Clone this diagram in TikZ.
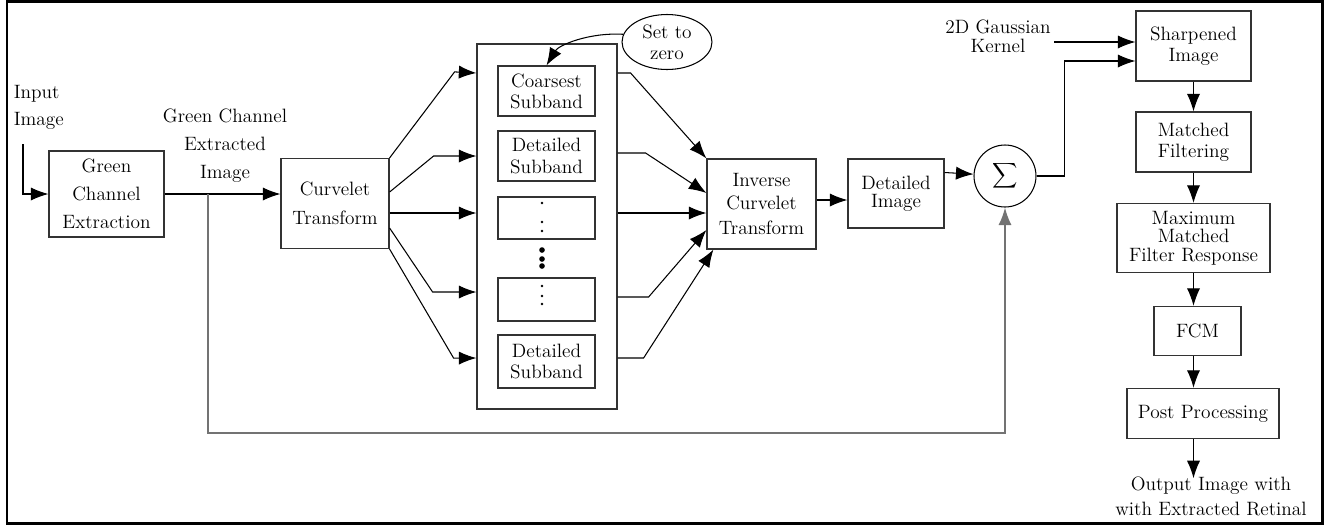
\documentclass[tikz,border=0pt]{standalone}
\usepackage{tikz}
\usetikzlibrary{shapes, arrows.meta, calc, positioning}

\begin{document}
\begin{tikzpicture}[x=0.02cm, y=-0.02cm, node distance=1.92cm, >={Latex[length=10pt,width=7.5pt]}, font=\fontsize{11}{12}\selectfont]

    % Define styles
    \tikzstyle{block} = [rectangle, text centered, align=center, draw=black!80, line width=0.7pt, fill=white, inner sep=2pt]
    \tikzstyle{subband} = [block, minimum width=1.94cm, minimum height=1cm]
    \tikzstyle{txt} = [align=center, inner sep=2pt]
    \tikzstyle{conn} = [->, semithick]
    \tikzstyle{feedback} = [->, draw=black!55, line width=1pt]

    % Frame
    \useasboundingbox (0,0) rectangle (1330,525);
    \draw [line width=1.7pt] (7,1.5) rectangle (1322.5,523);

    % Nodes
    \node (inimg) [txt, align=left, anchor=west] at (10,107) {Input\\[3.5pt]Image};
    \node (gce) [block, minimum width=2.3cm, minimum height=1.72cm] at (106.5,194) {Green\\[4pt]Channel\\[4pt]Extraction};
    \node (gcetxt) [txt] at (225,146) {Green Channel\\[4pt]Extracted\\[4pt]Image};
    \node (curv) [block, minimum width=2.16cm, minimum height=1.8cm] at (335,203.5) {Curvelet\\[4.5pt]Transform};

    \node (bank) [block, minimum width=2.8cm, minimum height=7.3cm] at (547,226.5) {};
    \node (coarse) [subband] at (546.5,91) {Coarsest\\Subband};
    \node (det1) [subband, node distance=1.3cm, below of=coarse] {Detailed\\Subband};
    \node (dots1) [subband, minimum height=0.84cm, node distance=1.24cm, below of=det1] {};
    \node (dots2) [subband, minimum height=0.86cm, node distance=1.63cm, below of=dots1] {};
    \node (det2) [subband, minimum height=1.06cm, node distance=1.24cm, below of=dots2] {Detailed\\Subband};
    \node (zero) [ellipse, draw=black, semithick, minimum width=1.8cm, minimum height=1.1cm, inner sep=0pt, align=center] at (667,42) {Set to\\zero};

    \node (ict) [block, minimum width=2.18cm, minimum height=1.8cm] at (761.5,204) {Inverse\\[1pt]Curvelet\\[2pt]Transform};
    \node (detimg) [block, minimum width=1.92cm, minimum height=1.38cm] at (896,193.5) {Detailed\\[-2pt]Image};
    \node (sum) [circle, draw=black, semithick, minimum size=1.24cm, inner sep=0pt] at (1005,176) {$\displaystyle\sum$};
    \node (gauss) [txt] at (998,36) {2D Gaussian\\[-1pt]Kernel};

    \node (sharp) [block, minimum width=2.3cm, minimum height=1.4cm] at (1193.5,46) {Sharpened\\Image};
    \node (match) [block, minimum width=2.3cm, minimum height=1.2cm, below of=sharp] {Matched\\Filtering};
    \node (mmfr) [block, minimum width=3.06cm, minimum height=1.38cm, below of=match] {Maximum\\[-1.5pt]Matched\\[-1.5pt]Filter Response};
    \node (fcm) [block, minimum width=1.74cm, minimum height=0.98cm, below of=mmfr, xshift=0.08cm, yshift=0.06cm] {FCM};
    \node (post) [block, minimum width=3.04cm, minimum height=1cm, below of=fcm, xshift=0.11cm, yshift=0.27cm] {Post Processing};
    \node (outtxt) [txt, below of=post, xshift=0.16cm, yshift=0.26cm] {Output Image with\\[2pt]with Extracted Retinal};

    \coordinate (inpt) at (23,144);
    \coordinate (tap) at (gce.east -| 208,0);

    % dots
    \foreach \y in {203,222,231,286,296,304} \fill (542,\y) circle (0.75pt);
    \foreach \y in {250,259,266} \fill (542,\y) circle (1.6pt);

    % Arrows
    \draw [conn] (inpt) |- (gce.west);
    \draw [conn] (gce.east) -- (gce.east -| curv.west);
    \draw [feedback] (tap) -- (tap |- 0,433) -| (sum.south);

    \draw [conn] (curv.north east) -- ++(65,-86) -- (bank.west |- 0,73);
    \draw [conn] (curv.east |- 0,192) -- ++(44,-36) -- (bank.west |- 0,156);
    \draw [conn] (curv.east |- 0,213) -- (bank.west |- 0,213);
    \draw [conn] (curv.east |- 0,228) -- ++(43,64) -- (bank.west |- 0,292);
    \draw [conn] (curv.south east) -- ++(64,109) -- (bank.west |- 0,358);

    \draw [conn] (bank.east |- 0,73) -- ++(13,0) -- (ict.north west);
    \draw [conn] (bank.east |- 0,153) -- ++(28,0) -- ([yshift=0.22cm]ict.west);
    \draw [conn] (bank.east |- 0,213) -- (ict.west |- 0,213);
    \draw [conn] (bank.east |- 0,297) -- ++(31,0) -- ([yshift=-0.52cm]ict.west);
    \draw [conn] (bank.east |- 0,358) -- ++(26,0) -- ([xshift=0.14cm]ict.south west);

    \draw [conn] (zero.170) .. controls +(-35,-2) and +(12,-20) .. (coarse.north);

    \draw [conn] ([yshift=0.08cm]ict.east) -- ([yshift=0.08cm]ict.east -| detimg.west);
    \draw [conn] ([yshift=0.42cm]detimg.east) -- (sum);
    \draw [conn] (sum.east) -- ++(28,0) |- ([yshift=-0.3cm]sharp.west);
    \draw [conn] ([yshift=-0.12cm]gauss.east) -- ([yshift=-0.12cm]gauss.east -| sharp.west);

    \draw [conn] (sharp) -- (match);
    \draw [conn] (match) -- (mmfr);
    \draw [conn] (mmfr.south) -- (mmfr.south |- fcm.north);
    \draw [conn] (fcm.south -| mmfr.south) -- (post.north -| mmfr.south);
    \draw [conn] (post.south -| mmfr.south) -- ([yshift=-0.1cm]outtxt.north -| mmfr.south);

\end{tikzpicture}
\end{document}
